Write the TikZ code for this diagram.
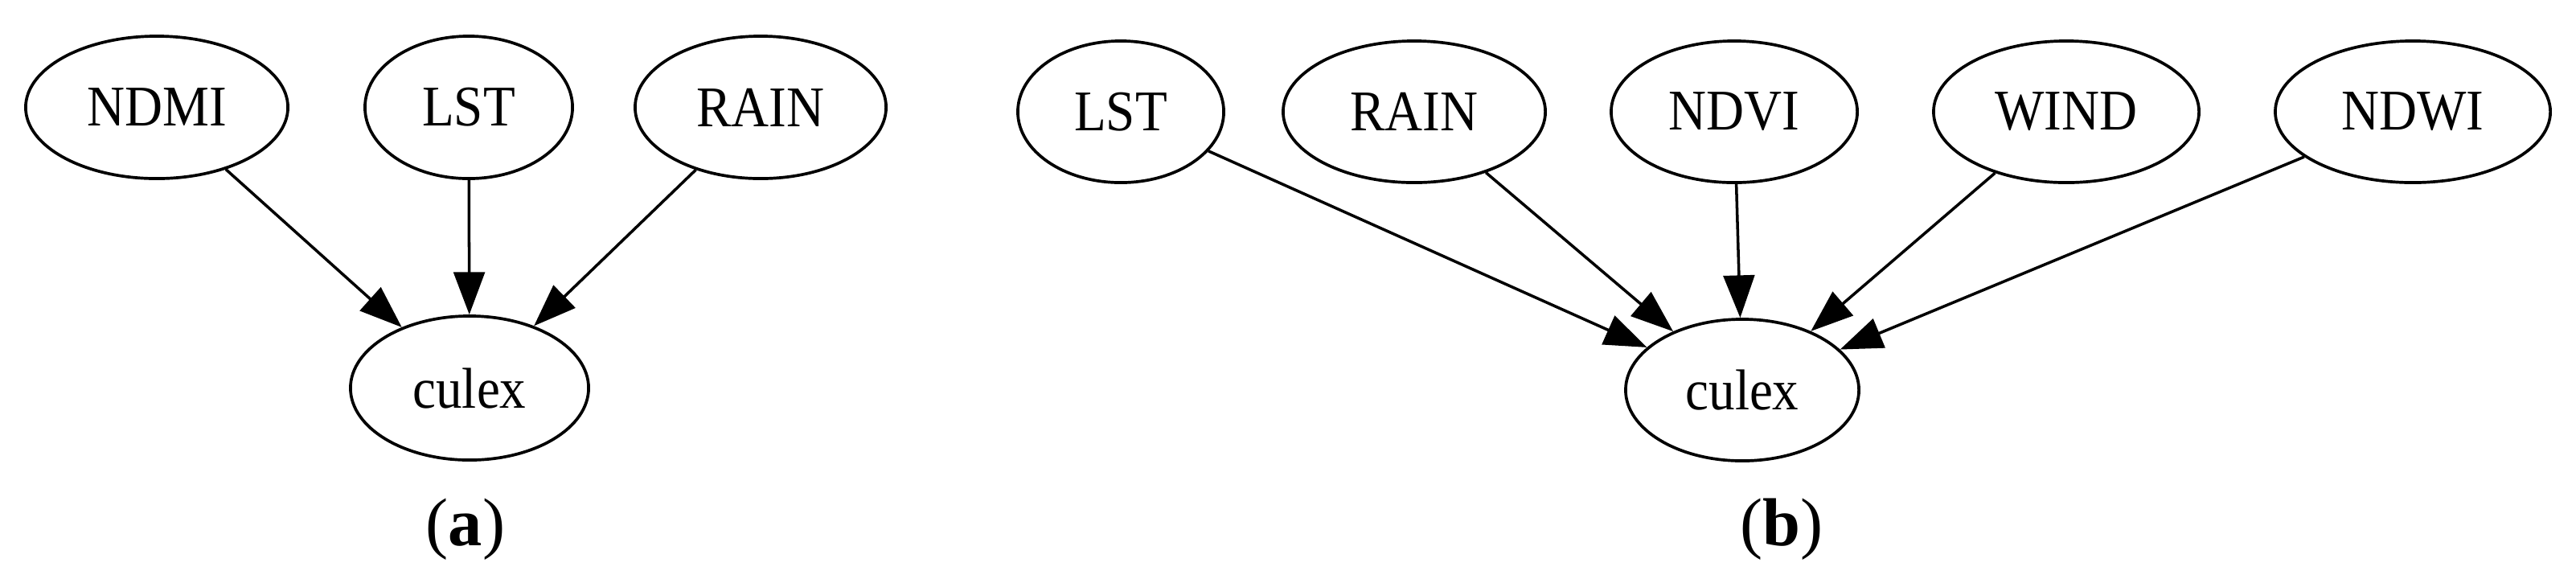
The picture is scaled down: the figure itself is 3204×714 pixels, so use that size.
\documentclass[tikz,border=0pt]{standalone}
\usepackage{fontspec}
\setmainfont{Liberation Serif}
\usetikzlibrary{shapes.geometric,arrows.meta}
\newcommand{\tallt}[1]{\scalebox{1}[1.1]{#1}}
\tikzset{
  var/.style={draw, ellipse, inner sep=0pt, line width=1.05pt,
    minimum height=1.77cm, font=\fontsize{18.5}{20}\selectfont},
  arr/.style={line width=1pt, -{Triangle[length=15pt,width=11pt]}},
  sublabel/.style={font=\fontsize{24}{26}\selectfont, inner sep=0pt}
}
\begin{document}
\begin{tikzpicture}[x=0.01cm,y=-0.01cm]
\useasboundingbox (0,0) rectangle (3204,714);
% (a)
\node[var, minimum width=3.26cm] (aNDMI) at (195,133.5) {\tallt{NDMI}};
\node[var, minimum width=2.58cm] (aLST) at (583,133.5) {\tallt{LST}};
\node[var, minimum width=3.12cm] (aRAIN) at (946,133.5) {\tallt{RAIN}};
\node[var, minimum width=2.96cm, minimum height=1.79cm] (aculex) at (584,482.5) {\tallt{culex}};
\draw[arr] (aNDMI) -- (aculex);
\draw[arr] (aLST) -- (aculex);
\draw[arr] (aRAIN) -- (aculex);
\node[sublabel] (alab) at (579,658) {(\textbf{a})};
% (b)
\node[var, minimum width=2.56cm, minimum height=1.76cm] (bLST) at (1394,139) {\tallt{LST}};
\node[var, minimum width=3.26cm, minimum height=1.76cm] (bRAIN) at (1759,139) {\tallt{RAIN}};
\node[var, minimum width=3.06cm, minimum height=1.76cm] (bNDVI) at (2157,139) {\tallt{NDVI}};
\node[var, minimum width=3.30cm, minimum height=1.76cm] (bWIND) at (2570,139) {\tallt{WIND}};
\node[var, minimum width=3.42cm, minimum height=1.76cm] (bNDWI) at (3001,139) {\tallt{NDWI}};
\node[var, minimum width=2.90cm, minimum height=1.76cm] (bculex) at (2167,485) {\tallt{culex}};
\draw[arr] (bLST) -- (bculex);
\draw[arr] (bRAIN) -- (bculex);
\draw[arr] (bNDVI) -- (bculex);
\draw[arr] (bWIND) -- (bculex);
\draw[arr] (bNDWI) -- (bculex);
\node[sublabel] (blab) at (2216,658) {(\textbf{b})};
\end{tikzpicture}
\end{document}
